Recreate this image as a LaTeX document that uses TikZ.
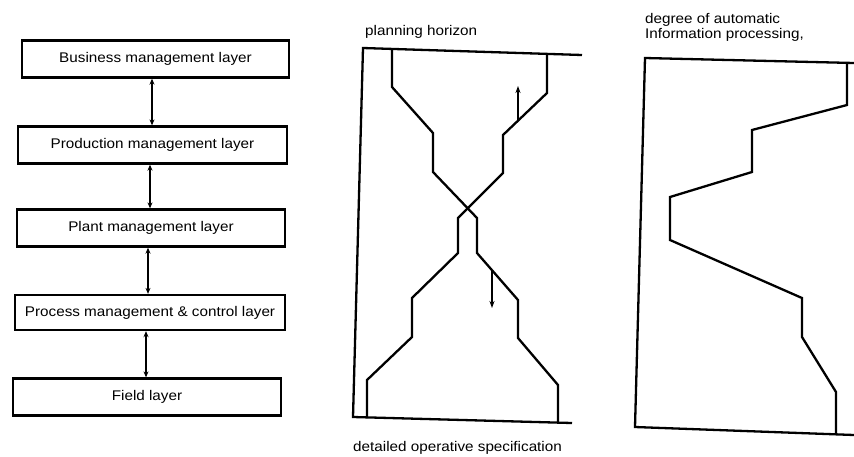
\documentclass[tikz,border=0pt]{standalone}
\usepackage{fontspec}
\setmainfont[FakeStretch=1.09]{Liberation Sans}
\usetikzlibrary{arrows.meta}
\begin{document}
\begin{tikzpicture}[x=1pt,y=-1pt,
  layer/.style={draw, line width=2.3pt, minimum height=37pt, inner sep=0pt, font=\fontsize{14}{16}\selectfont},
  link/.style={{Stealth[length=6pt,width=5pt]}-{Stealth[length=6pt,width=5pt]}, line width=1.9pt},
  curve/.style={line width=2.3pt, line join=miter},
  lbl/.style={inner sep=0pt, font=\fontsize{14}{16}\selectfont},
  updown/.style={-{Stealth[length=7pt,width=5pt]}, line width=1.8pt}]
\useasboundingbox (0,0) rectangle (854,456);
% left: layers
\node[layer, minimum width=267pt] (b1) at (155.5,59) {Business management layer};
\node[layer, minimum width=269pt] (b2) at (152.5,145) {Production management layer};
\node[layer, minimum width=268pt] (b3) at (151,228) {Plant management layer};
\node[layer, minimum width=270pt, minimum height=35pt] (b4) at (150,312.5) {Process management \& control layer};
\node[layer, minimum width=268pt] (b5) at (147,397) {Field layer};
\draw[link] (b1.south) ++(-3.5,0) coordinate (a1) -- (a1 |- b2.north);
\draw[link] (b2.south) ++(-2.5,0) coordinate (a2) -- (a2 |- b3.north);
\draw[link] (b3.south) ++(-3,0) coordinate (a3) -- (a3 |- b4.north);
\draw[link] (b4.south) ++(-4,0) coordinate (a4) -- (a4 |- b5.north);
% middle chart
\node[lbl, anchor=base west] (ph) at (365,35) {planning horizon};
\node[lbl, anchor=base west] (dos) at (353,451) {detailed operative specification};
\draw[curve] (582,55) -- (363,48) -- (353,417) -- (572,423);
\draw[curve] (392,49) -- (392,87) -- (433,133) -- (433,172) -- (477,218) -- (477,253)
  -- (518,300) -- (518,338) -- (558,385) -- (558,422);
\draw[curve] (547,54) -- (547,93) -- (503,135) -- (503,173) -- (458,218) -- (458,253)
  -- (412,298) -- (412,337) -- (367,380) -- (367,418);
\coordinate (u0) at (518,121);
\coordinate (u1) at (518,86);
\coordinate (d0) at (492,270);
\coordinate (d1) at (492,308);
\draw[updown] (u0) -- (u1);
\draw[updown] (d0) -- (d1);
% right chart
\node[lbl, anchor=base west] (deg) at (645,23) {degree of automatic};
\node[lbl, anchor=base west] (inf) at (645,38) {Information processing,};
\draw[curve] (854,63) -- (645,58) -- (635,427) -- (854,435);
\draw[curve] (847,62) -- (847,105) -- (752,130) -- (752,172) -- (670,197) -- (670,240)
  -- (802,298) -- (802,337) -- (836,392) -- (836,434);
\end{tikzpicture}
\end{document}
